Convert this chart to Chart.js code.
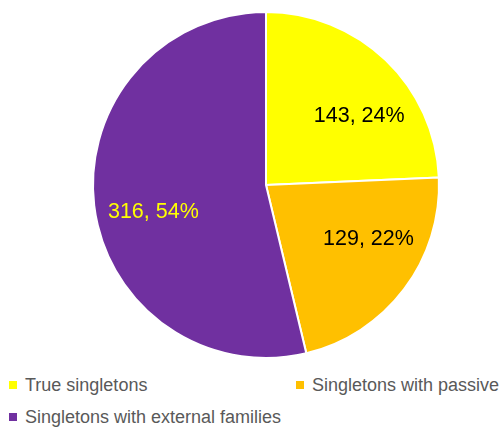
<!DOCTYPE html>
<html lang="en">
<head>
    <meta charset="UTF-8">
    <title>Singletons</title>
    <script src="https://cdn.jsdelivr.net/npm/chart.js"></script>
    <style>
        html, body {
            margin: 0;
            padding: 0;
            background: #fff;
            width: 501px;
            height: 428px;
            overflow: hidden;
        }
        .chart-box {
            position: absolute;
            left: 0;
            top: 0;
            width: 501px;
            height: 370px;
        }
        .legend {
            position: absolute;
            left: 0;
            top: 370px;
            width: 501px;
            font-family: "Liberation Sans", Arial, sans-serif;
            font-size: 18px;
            color: #595959;
        }
        .legend-item {
            position: absolute;
            white-space: nowrap;
            line-height: 20px;
        }
        .legend-item span {
            display: inline-block;
            width: 8px;
            height: 8px;
            margin-right: 8px;
            vertical-align: 2px;
        }
    </style>
</head>
<body>
    <div class="chart-box">
        <canvas id="pieChart" width="501" height="370"></canvas>
    </div>
    <div class="legend" id="legend"></div>

    <script>
        // data
        const categories = ['True singletons', 'Singletons with passive', 'Singletons with external families'];
        const counts = [143, 129, 316];
        const sliceColors = ['#FFFF00', '#FFC000', '#7030A0'];
        const labelColors = ['#000000', '#000000', '#FFFF00'];

        const total = counts.reduce((a, b) => a + b, 0);

        // value labels inside slices (small angle nudges, like Excel's "best fit")
        const labelNudge = [0.17, -0.16, -0.12];
        const sliceLabels = {
            id: 'sliceLabels',
            afterDatasetsDraw(chart) {
                const ctx = chart.ctx;
                const meta = chart.getDatasetMeta(0);
                ctx.save();
                ctx.font = '21.5px "Liberation Sans", Arial, sans-serif';
                ctx.textAlign = 'center';
                ctx.textBaseline = 'middle';
                meta.data.forEach((arc, i) => {
                    const mid = (arc.startAngle + arc.endAngle) / 2 + labelNudge[i];
                    const r = arc.outerRadius * 0.67;
                    const x = arc.x + Math.cos(mid) * r;
                    const y = arc.y + Math.sin(mid) * r;
                    const pct = Math.round(counts[i] / total * 100);
                    ctx.fillStyle = labelColors[i];
                    ctx.fillText(counts[i] + ', ' + pct + '%', x, y);
                });
                ctx.restore();
            }
        };

        new Chart(document.getElementById('pieChart'), {
            type: 'pie',
            data: {
                labels: categories,
                datasets: [{
                    data: counts,
                    backgroundColor: sliceColors,
                    borderColor: '#ffffff',
                    borderWidth: 2
                }]
            },
            options: {
                responsive: false,
                animation: false,
                layout: {
                    padding: { top: 11, bottom: 11, left: 92, right: 61 }
                },
                plugins: {
                    legend: { display: false },
                    tooltip: { enabled: false }
                }
            },
            plugins: [sliceLabels]
        });

        // legend in two columns
        const legendPos = [[9, 5], [296, 5], [9, 37]];
        const legend = document.getElementById('legend');
        categories.forEach((name, i) => {
            const item = document.createElement('div');
            item.className = 'legend-item';
            item.style.left = legendPos[i][0] + 'px';
            item.style.top = legendPos[i][1] + 'px';
            item.innerHTML = '<span style="background:' + sliceColors[i] + '"></span>' + name;
            legend.appendChild(item);
        });
    </script>
</body>
</html>
